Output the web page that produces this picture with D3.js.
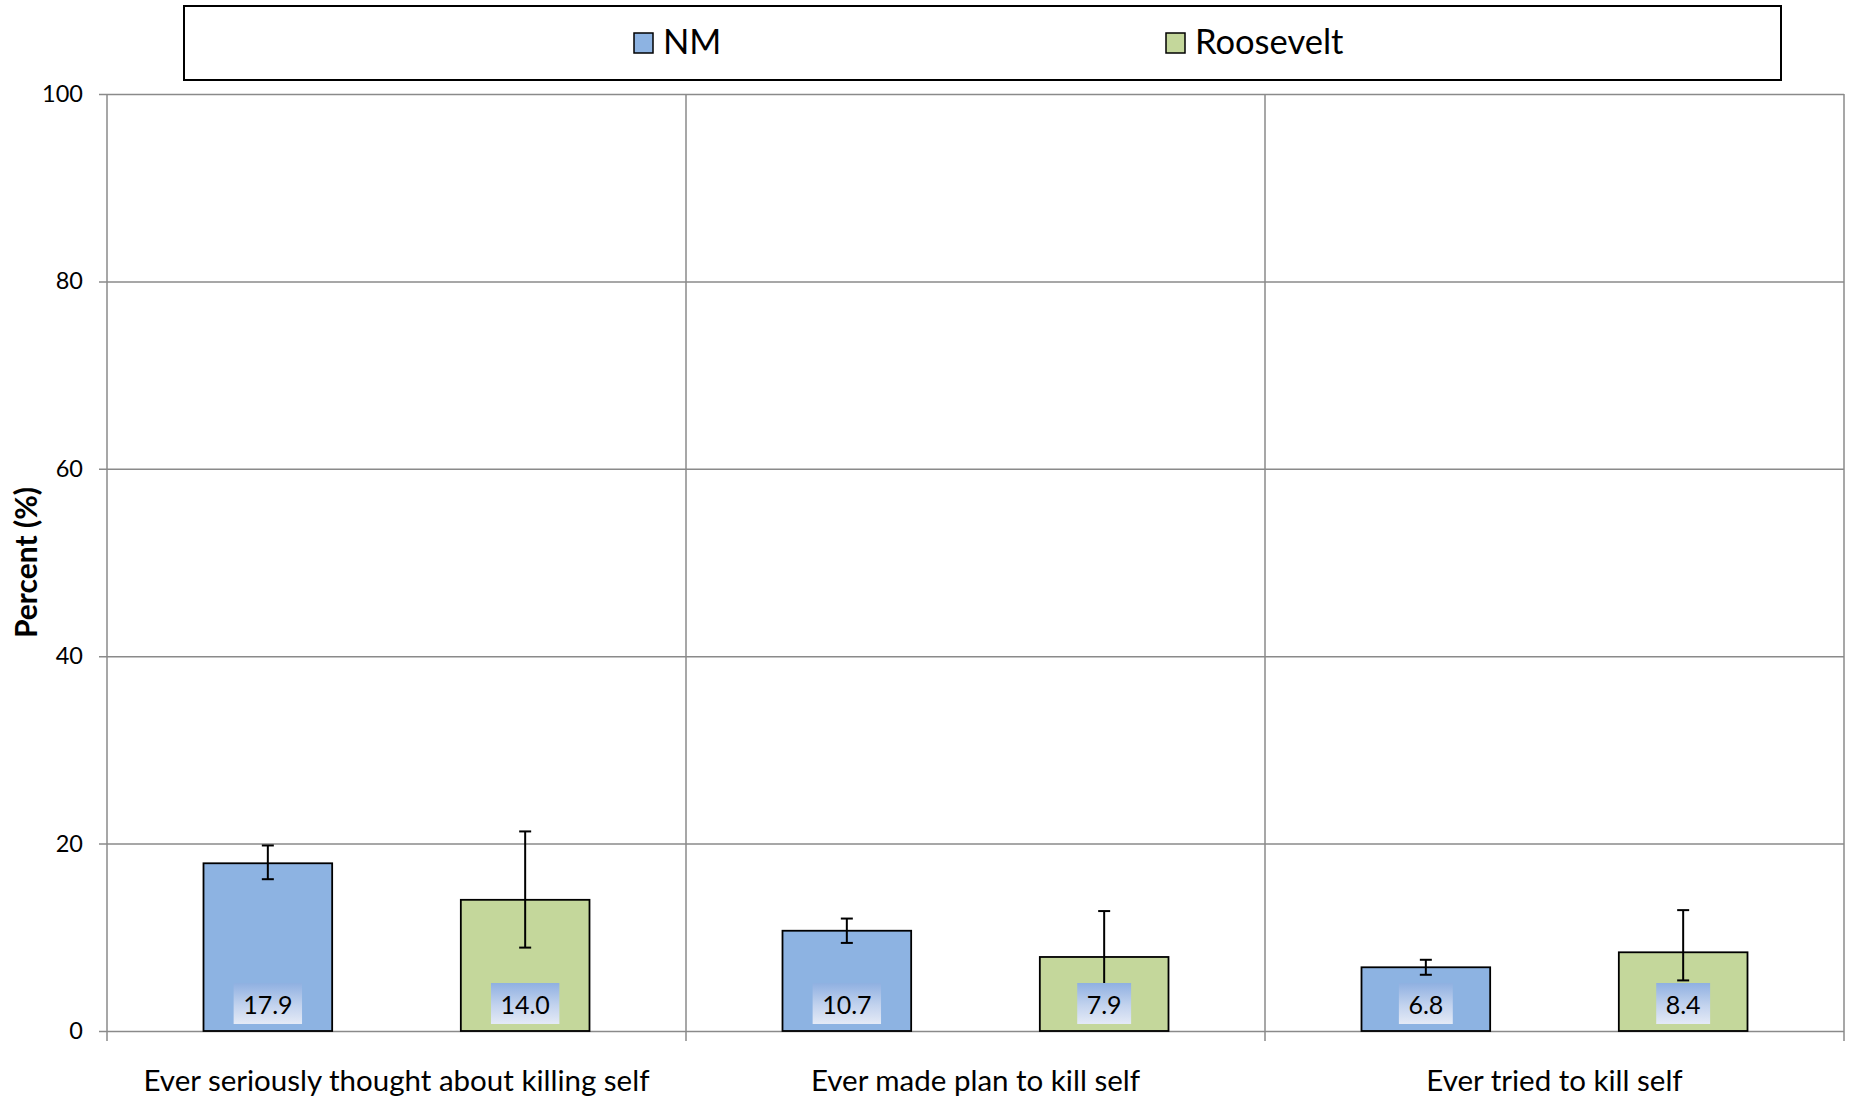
<!DOCTYPE html>
<html>
<head>
<meta charset="utf-8">
<script src="https://cdn.jsdelivr.net/npm/d3@7"></script>
<style>
  html, body { margin: 0; padding: 0; background: #fff; }
  svg text { font-family: Lato, "Open Sans", sans-serif; fill: #000; }
</style>
</head>
<body>
<svg id="chart" width="1851" height="1101"></svg>
<script>
const categories = ["Ever seriously thought about killing self", "Ever made plan to kill self", "Ever tried to kill self"];
const seriesNames = ["NM", "Roosevelt"];
const nmValues = [17.9, 10.7, 6.8];
const nmLower = [16.2, 9.4, 6.0];
const nmUpper = [19.8, 12.0, 7.6];
const rooseveltValues = [14.0, 7.9, 8.4];
const rooseveltLower = [8.9, 4.4, 5.4];
const rooseveltUpper = [21.3, 12.8, 12.9];
const yTicks = [0, 20, 40, 60, 80, 100];
const yLabel = "Percent (%)";

const colors = { NM: "#8DB3E2", Roosevelt: "#C4D79B" };
const series = [
  { name: "NM", values: nmValues, lower: nmLower, upper: nmUpper },
  { name: "Roosevelt", values: rooseveltValues, lower: rooseveltLower, upper: rooseveltUpper }
];

const svg = d3.select("#chart");
const pLeft = 107, pRight = 1844, pTop = 94, pBottom = 1031;
const gridColor = "#8a8a8a";

const x = d3.scaleBand().domain(categories).range([pLeft, pRight]).padding(0);
const y = d3.scaleLinear().domain([0, 100]).range([pBottom, pTop]);
const inner = d3.scaleBand().domain(seriesNames).range([0, x.bandwidth()]).paddingInner(0.5).paddingOuter(0.375);

const defs = svg.append("defs");
const grad = defs.append("linearGradient").attr("id", "lblGrad").attr("x1", 0).attr("y1", 0).attr("x2", 0).attr("y2", 1);
grad.append("stop").attr("offset", "0%").attr("stop-color", "#8FB0E1");
grad.append("stop").attr("offset", "55%").attr("stop-color", "#C3D3EE");
grad.append("stop").attr("offset", "100%").attr("stop-color", "#E4EAF6");

// horizontal gridlines + y tick labels
const yAxisG = svg.append("g").attr("transform", `translate(${pLeft},0)`)
  .call(d3.axisLeft(y).tickValues(yTicks).tickSize(-(pRight - pLeft)).tickSizeOuter(0).tickPadding(24));
yAxisG.select(".domain").remove();
yAxisG.selectAll(".tick line").attr("stroke", gridColor).attr("stroke-width", 1.5).attr("x1", -8);
yAxisG.selectAll(".tick text").attr("font-size", 23.5).attr("font-family", "Lato").attr("fill", "#000");

// vertical gridlines at category boundaries
const boundaries = [pLeft].concat(categories.map(c => x(c) + x.bandwidth()));
svg.append("g").selectAll("line").data(boundaries).join("line")
  .attr("x1", d => d).attr("x2", d => d)
  .attr("y1", pTop).attr("y2", pBottom + 10)
  .attr("stroke", gridColor).attr("stroke-width", 1.5);

// bars
series.forEach(s => {
  const data = categories.map((c, i) => ({ c, i, v: s.values[i], lo: s.lower[i], hi: s.upper[i] }));
  const g = svg.append("g");
  g.selectAll("rect").data(data).join("rect")
    .attr("x", d => x(d.c) + inner(s.name))
    .attr("width", inner.bandwidth())
    .attr("y", d => y(d.v))
    .attr("height", d => y(0) - y(d.v))
    .attr("fill", colors[s.name])
    .attr("stroke", "#000").attr("stroke-width", 1.8);
  s.data = data;
});

// error bars
series.forEach(s => {
  const eg = svg.append("g").attr("stroke", "#000").attr("stroke-width", 2);
  s.data.forEach(d => {
    const cx = x(d.c) + inner(s.name) + inner.bandwidth() / 2;
    eg.append("line").attr("x1", cx).attr("x2", cx).attr("y1", y(d.hi)).attr("y2", y(d.lo));
    eg.append("line").attr("x1", cx - 6).attr("x2", cx + 6).attr("y1", y(d.hi)).attr("y2", y(d.hi));
    eg.append("line").attr("x1", cx - 6).attr("x2", cx + 6).attr("y1", y(d.lo)).attr("y2", y(d.lo));
  });
});

// value labels
series.forEach(s => {
  const lg = svg.append("g");
  s.data.forEach(d => {
    const cx = x(d.c) + inner(s.name) + inner.bandwidth() / 2;
    const t = lg.append("text").attr("x", cx).attr("y", y(0) - 17)
      .attr("text-anchor", "middle").attr("font-size", 25).text(d.v.toFixed(1));
    const w = t.node().getComputedTextLength();
    lg.insert("rect", "text")
      .attr("x", cx - w / 2 - 9.5).attr("width", w + 19)
      .attr("y", y(0) - 48).attr("height", 41)
      .attr("fill", "url(#lblGrad)");
  });
});

// x labels
svg.append("g").selectAll("text").data(categories).join("text")
  .attr("x", c => x(c) + x.bandwidth() / 2)
  .attr("y", 1091)
  .attr("text-anchor", "middle").attr("font-size", 29.5)
  .text(c => c);

// y title
svg.append("text")
  .attr("transform", `translate(37,${(pTop + pBottom) / 2}) rotate(-90)`)
  .attr("text-anchor", "middle").attr("font-size", 30).attr("font-weight", "bold")
  .text(yLabel);

// legend
const lgd = svg.append("g");
lgd.append("rect").attr("x", 184).attr("y", 6).attr("width", 1597).attr("height", 74)
  .attr("fill", "#fff").attr("stroke", "#000").attr("stroke-width", 2);
const legendX = { NM: 634, Roosevelt: 1166 };
seriesNames.forEach(n => {
  lgd.append("rect").attr("x", legendX[n]).attr("y", 33).attr("width", 19).attr("height", 20)
    .attr("fill", colors[n]).attr("stroke", "#000").attr("stroke-width", 1.5);
  lgd.append("text").attr("x", legendX[n] + 29).attr("y", 54).attr("font-size", 34.5).text(n);
});
</script>
</body>
</html>
